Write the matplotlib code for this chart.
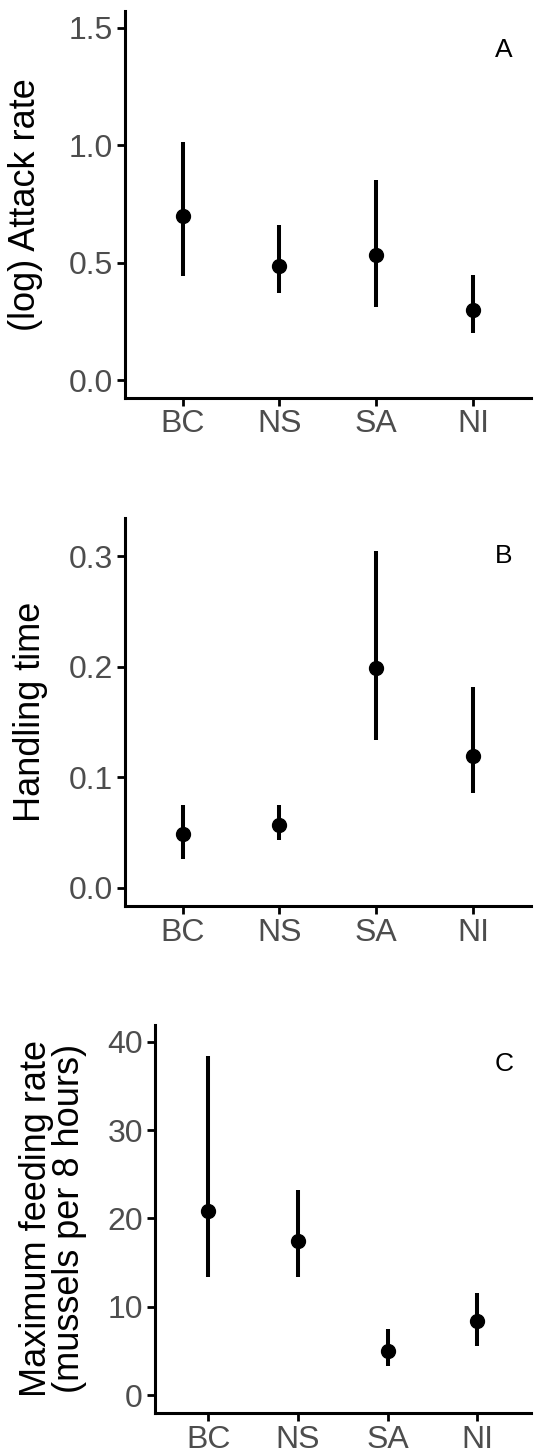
import matplotlib
matplotlib.use("Agg")
import matplotlib.pyplot as plt

plt.rcParams["font.family"] = ["Liberation Sans", "DejaVu Sans"]

sites = ["BC", "NS", "SA", "NI"]

# panel A: (log) attack rate
attack = [0.700, 0.487, 0.531, 0.298]
attack_lo = [0.443, 0.372, 0.312, 0.199]
attack_hi = [1.015, 0.660, 0.853, 0.446]

# panel B: handling time
handling = [0.0484, 0.0568, 0.199, 0.1188]
handling_lo = [0.026, 0.0432, 0.1333, 0.0861]
handling_hi = [0.0747, 0.0747, 0.3046, 0.1813]

# panel C: maximum feeding rate
feeding = [20.8, 17.5, 5.02, 8.38]
feeding_lo = [13.36, 13.36, 3.32, 5.51]
feeding_hi = [38.4, 23.2, 7.47, 11.58]

fig = plt.figure(figsize=(5.44, 14.54), dpi=100)

panels = [
    dict(rect=[0.2292, 0.7265, 0.7468, 0.2659], y=attack, lo=attack_lo, hi=attack_hi,
         ylim=(-0.075, 1.571), ticks=[0.0, 0.5, 1.0, 1.5], fmt="{:.1f}",
         ylabel="(log) Attack rate", letter="A", labx=-0.245),
    dict(rect=[0.2292, 0.3771, 0.7468, 0.2669], y=handling, lo=handling_lo, hi=handling_hi,
         ylim=(-0.0163, 0.335), ticks=[0.0, 0.1, 0.2, 0.3], fmt="{:.1f}",
         ylabel="Handling time", letter="B", labx=-0.233),
    dict(rect=[0.2844, 0.0284, 0.6916, 0.2666], y=feeding, lo=feeding_lo, hi=feeding_hi,
         ylim=(-2.0, 41.9), ticks=[0, 10, 20, 30, 40], fmt="{:d}",
         ylabel="Maximum feeding rate\n(mussels per 8 hours)", letter="C", labx=-0.27),
]

for p in panels:
    ax = fig.add_axes(p["rect"])
    x = list(range(1, len(sites) + 1))
    ax.vlines(x, p["lo"], p["hi"], color="black", lw=2.9)
    ax.plot(x, p["y"], "o", color="black", ms=10)
    ax.set_xlim(0.4, 4.6)
    ax.set_ylim(*p["ylim"])
    ax.set_xticks(x)
    ax.set_xticklabels(sites)
    ax.set_yticks(p["ticks"])
    ax.set_yticklabels([p["fmt"].format(t) for t in p["ticks"]])
    for s in ["top", "right"]:
        ax.spines[s].set_visible(False)
    for s in ["left", "bottom"]:
        ax.spines[s].set_linewidth(2.2)
    ax.tick_params(axis="both", length=5.5, width=2.0, color="black",
                   labelsize=23, labelcolor="#4D4D4D", pad=3)
    ax.set_ylabel(p["ylabel"], fontsize=26, va="center", ha="center", linespacing=0.95)
    ax.yaxis.set_label_coords(p["labx"], 0.5)
    ax.text(0.955, 0.9, p["letter"], transform=ax.transAxes, fontsize=19,
            ha="right", va="center")

fig.savefig("out.png", dpi=100)
